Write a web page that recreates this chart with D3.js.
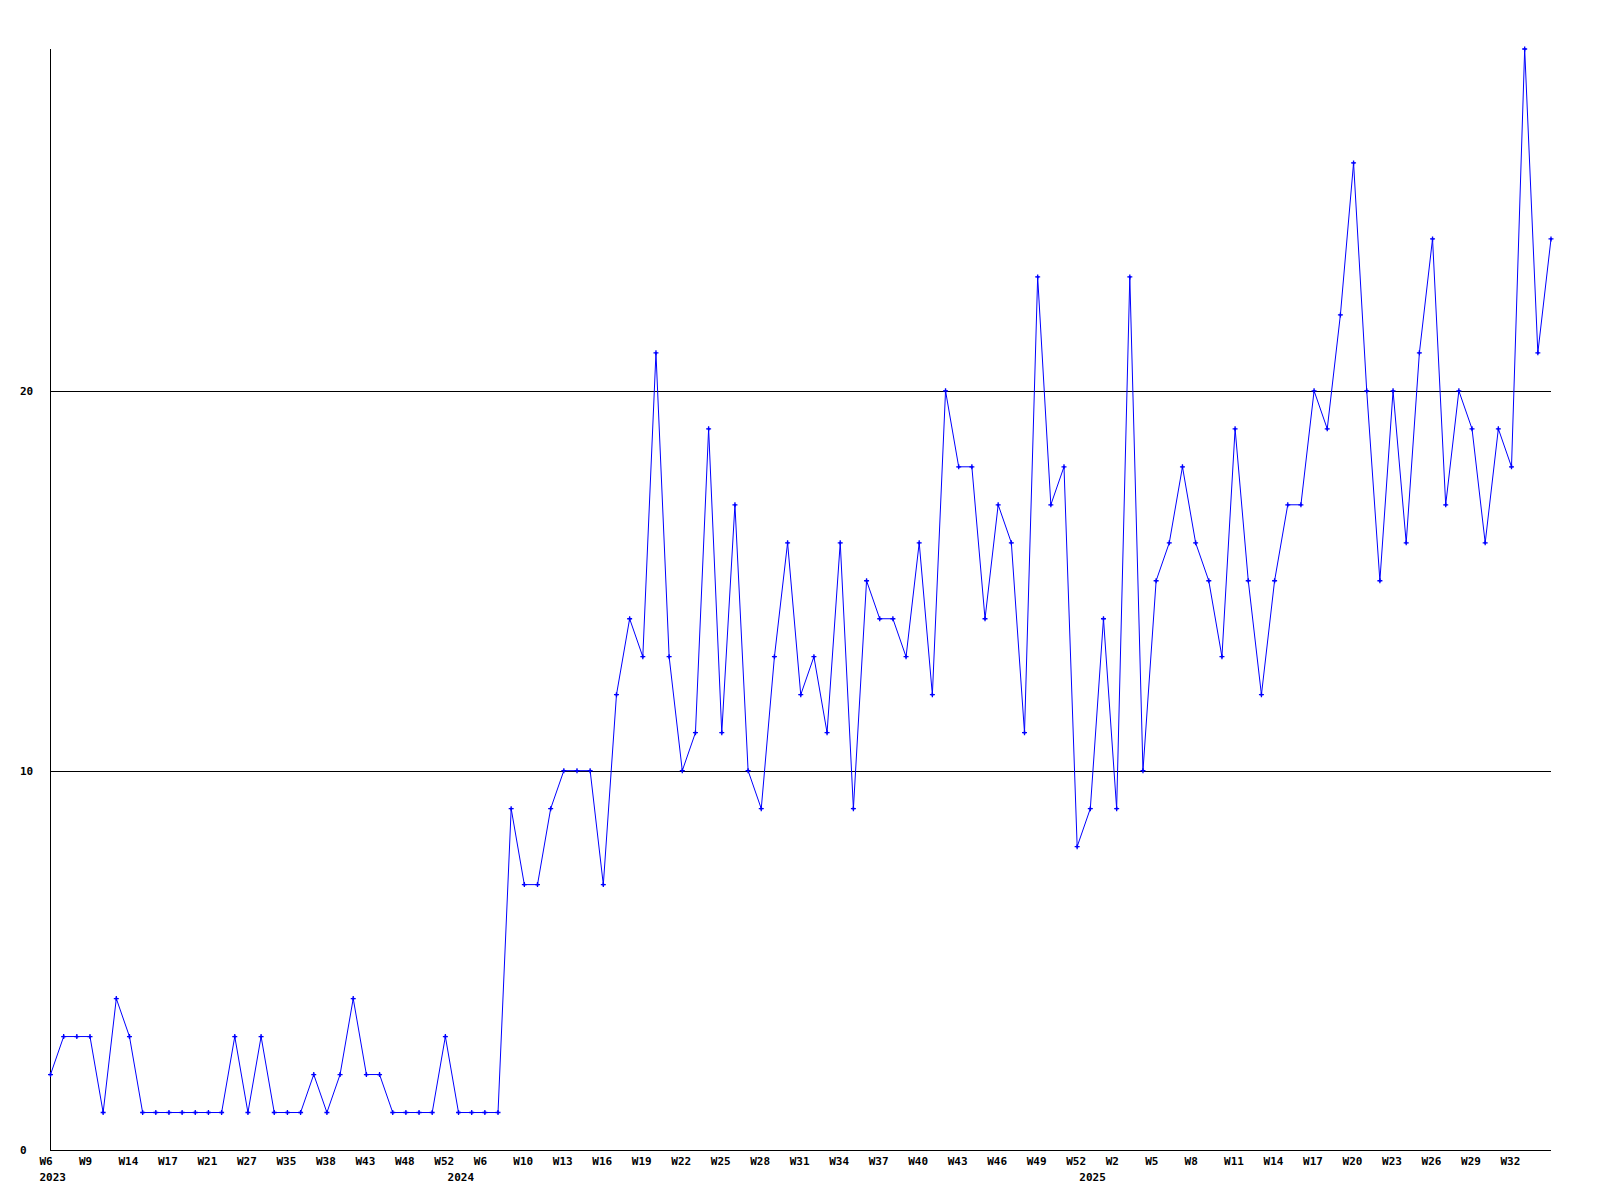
<!DOCTYPE html>
<html>
<head>
<meta charset="utf-8">
<script src="https://cdn.jsdelivr.net/npm/d3@7/dist/d3.min.js"></script>
<style>
  html, body { margin: 0; padding: 0; background: #fff; }
  svg text { font-family: "DejaVu Sans Mono", "Liberation Mono", monospace; font-weight: bold; font-size: 11px; fill: #000; }
</style>
</head>
<body>
<svg id="chart" width="1600" height="1200"></svg>
<script>
// ---- data ----
const years = [
  2023,2023,2023,2023,2023,2023,2023,2023,2023,2023,2023,2023,2023,2023,2023,2023,
  2023,2023,2023,2023,2023,2023,2023,2023,2023,2023,2023,2023,2023,2023,2023,
  2024,2024,2024,2024,2024,2024,2024,2024,2024,2024,2024,2024,2024,2024,2024,2024,
  2024,2024,2024,2024,2024,2024,2024,2024,2024,2024,2024,2024,2024,2024,2024,2024,
  2024,2024,2024,2024,2024,2024,2024,2024,2024,2024,2024,2024,2024,2024,2024,2024,
  2025,2025,2025,2025,2025,2025,2025,2025,2025,2025,2025,2025,2025,2025,2025,2025,
  2025,2025,2025,2025,2025,2025,2025,2025,2025,2025,2025,2025,2025,2025,2025,2025,
  2025,2025,2025,2025
];
const weeks = [
  6,7,8,9,11,13,14,15,16,17,18,19,21,23,25,27,29,33,35,36,37,38,40,42,43,45,47,48,50,51,52,
  1,4,6,7,9,10,11,12,13,14,15,16,17,18,19,20,21,22,23,24,25,26,27,28,29,30,31,32,33,34,35,36,
  37,38,39,40,41,42,43,44,45,46,47,48,49,50,51,52,
  0,1,2,3,4,5,6,7,8,9,10,11,12,13,14,15,16,17,18,19,20,21,22,23,24,25,26,27,28,29,30,31,32,33,34,35
];
const values = [
  2,3,3,3,1,4,3,1,1,1,1,1,1,1,3,1,3,1,1,1,2,1,2,4,2,2,1,1,1,1,3,
  1,1,1,1,9,7,7,9,10,10,10,7,12,14,13,21,13,10,11,19,11,17,10,9,13,16,12,13,11,16,9,15,
  14,14,13,16,12,20,18,18,14,17,16,11,23,17,18,8,
  9,14,9,23,10,15,16,18,16,15,13,19,15,12,15,17,17,20,19,22,26,20,15,20,16,21,24,17,20,19,16,19,18,29,21,24
];
const yTicks = [0, 10, 20];
const yMax = 29;

(function () {
  const svg = d3.select("#chart");
  const mLeft = 50.5, mRight = 1551, mTop = 49, mBottom = 1150.5;
  const n = values.length;

  const x = d3.scaleLinear().domain([0, n - 1]).range([mLeft, mRight]);
  const y = d3.scaleLinear().domain([0, yMax]).range([mBottom, mTop]);

  // grid lines
  svg.append("g").selectAll("line").data(yTicks.filter(d => d > 0)).join("line")
    .attr("x1", mLeft).attr("x2", mRight)
    .attr("y1", d => Math.round(y(d)) + 0.5).attr("y2", d => Math.round(y(d)) + 0.5)
    .attr("stroke", "#000").attr("stroke-width", 1).attr("shape-rendering", "crispEdges");

  // axis lines
  svg.append("line").attr("x1", mLeft).attr("x2", mLeft).attr("y1", mTop).attr("y2", mBottom)
    .attr("stroke", "#000").attr("shape-rendering", "crispEdges");
  svg.append("line").attr("x1", mLeft).attr("x2", mRight).attr("y1", mBottom).attr("y2", mBottom)
    .attr("stroke", "#000").attr("shape-rendering", "crispEdges");

  // y labels
  svg.append("g").selectAll("text").data(yTicks).join("text")
    .attr("x", 20).attr("y", d => y(d)).attr("dy", "0.35em")
    .text(d => d);

  // x week labels
  const idx = d3.range(n);
  const tickIdx = idx.filter(i => i % 3 === 0 && i !== n - 1);
  svg.append("g").selectAll("text").data(tickIdx).join("text")
    .attr("x", i => x(i) - 11).attr("y", 1161).attr("dy", "0.35em")
    .text(i => "W" + weeks[i]);

  // year labels at first point of each year
  const yearIdx = idx.filter(i => i === 0 || years[i] !== years[i - 1]);
  svg.append("g").selectAll("text").data(yearIdx).join("text")
    .attr("x", i => x(i) - 11).attr("y", 1177).attr("dy", "0.35em")
    .text(i => years[i]);

  // line
  const line = d3.line().x((d, i) => x(i)).y(d => y(d));
  svg.append("path").datum(values)
    .attr("d", line).attr("fill", "none").attr("stroke", "#0000ff").attr("stroke-width", 1);

  // markers
  const mk = svg.append("g").attr("fill", "#0000ff").attr("stroke", "#0000ff");
  mk.selectAll("path").data(values).join("path")
    .attr("transform", (d, i) => `translate(${x(i)},${y(d)})`)
    .attr("d", "M-2.5,0H2.5M0,-2.5V2.5")
    .attr("stroke-width", 1.3);
  mk.selectAll("rect").data(values).join("rect")
    .attr("x", (d, i) => x(i) - 1).attr("y", d => y(d) - 1)
    .attr("width", 2).attr("height", 2).attr("stroke", "none");
})();
</script>
</body>
</html>
